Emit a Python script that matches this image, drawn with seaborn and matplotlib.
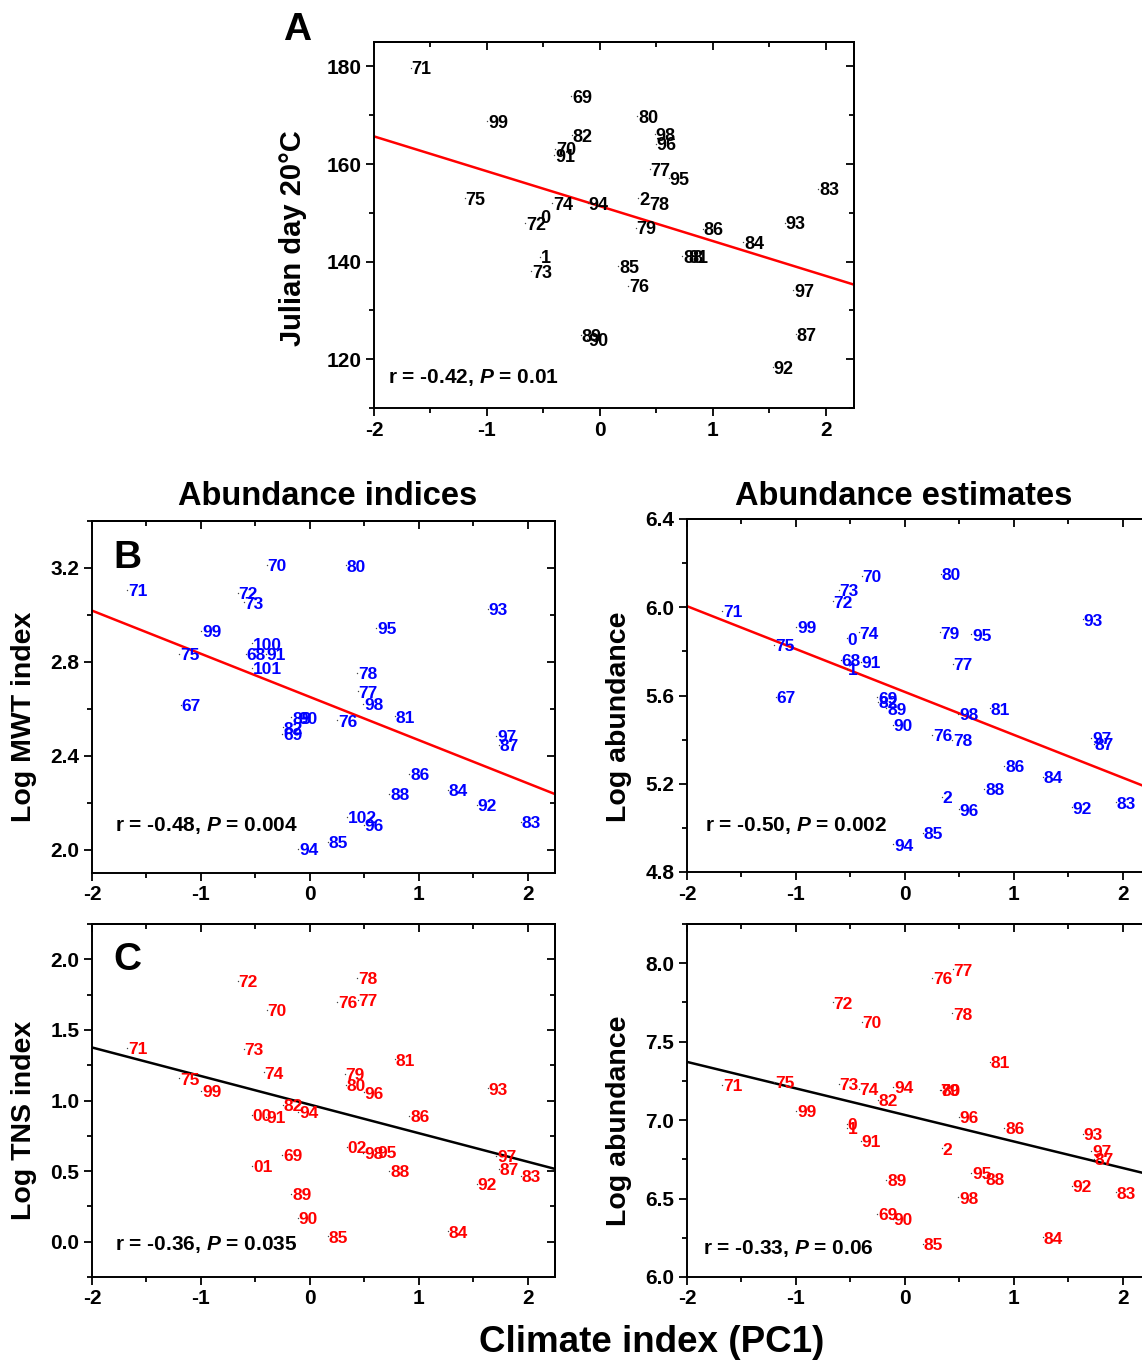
"""Climate index (PC1) vs timing and abundance: five labelled scatter panels."""

import matplotlib

matplotlib.use("Agg")
import matplotlib.pyplot as plt
import numpy as np
import pandas as pd
import seaborn as sns
from matplotlib.ticker import FormatStrFormatter, MultipleLocator

# years 1967..2002, written as 67..102
YEARS = list(range(67, 103))
PC1 = [
    -1.186, -0.587, -0.255, -0.395, -1.676, -0.661, -0.606, -0.423, -1.198, 0.253,
    0.440, 0.432, 0.318, 0.331, 0.780, -0.250, 1.935, 1.268, 0.162, 0.912,
    1.734, 0.730, -0.171, -0.110, -0.404, 1.532, 1.635, -0.105, 0.609, 0.496,
    1.713, 0.488, -0.998, -0.535, -0.530, 0.341,
]
nan = np.nan
JULIAN_DAY = [
    nan, nan, 173.9, 163.1, 179.7, 147.9, 138.0, 152.0, 153.0, 135.1,
    158.9, 152.0, 146.9, 169.8, 141.1, 165.9, 154.9, 144.0, 139.0, 146.7,
    125.1, 141.1, 124.9, 124.1, 161.8, 118.3, 148.0, 152.0, 157.1, 164.1,
    134.1, 166.1, 168.8, 149.2, 141.0, 153.0,
]
MWT_INDEX = [
    2.615, 2.834, 2.493, 3.214, 3.105, 3.094, 3.053, nan, 2.833, 2.550,
    2.674, 2.752, nan, 3.211, 2.567, 2.521, 2.119, 2.254, 2.034, 2.321,
    2.445, 2.236, 2.563, 2.561, 2.834, 2.191, 3.025, 2.003, 2.946, 2.105,
    2.483, 2.620, 2.932, 2.879, 2.773, 2.140,
]
MWT_ABUND = [
    5.594, 5.761, 5.592, 6.142, 5.984, 6.027, 6.079, 5.886, 5.829, 5.421,
    5.742, 5.398, 5.886, 6.151, 5.542, 5.570, 5.116, 5.232, 4.978, 5.280,
    5.380, 5.176, 5.542, 5.466, 5.754, 5.093, 5.945, 4.925, 5.877, 5.084,
    5.409, 5.516, 5.912, 5.859, 5.720, 5.141,
]
TNS_INDEX = [
    nan, nan, 0.615, 1.644, 1.373, 1.845, 1.364, 1.199, 1.157, 1.698,
    1.710, 1.871, 1.187, 1.110, 1.291, 0.968, 0.466, 0.073, 0.037, 0.890,
    0.514, 0.502, 0.339, 0.167, 0.886, 0.410, 1.086, 0.921, 0.638, 1.058,
    0.608, 0.627, 1.069, 0.898, 0.537, 0.673,
]
TNS_ABUND = [
    nan, nan, 6.401, 7.628, 7.225, 7.750, 7.229, 7.200, 7.246, 7.908,
    7.960, 7.680, 7.195, 7.195, 7.370, 7.127, 6.539, 6.253, 6.210, 6.949,
    6.752, 6.628, 6.619, 6.369, 6.868, 6.581, 6.910, 7.210, 6.662, 7.021,
    6.805, 6.508, 7.060, 6.975, 6.950, 6.820,
]

# point labels as printed in each panel
LABELS_SHORT = [str(y % 100) for y in YEARS]          # 0, 1, 2
LABELS_LONG = [str(y) for y in YEARS]                 # 100, 101, 102
LABELS_PAD = [f"{y % 100:02d}" if y >= 100 else str(y) for y in YEARS]  # 00, 01, 02

W, H = 1142, 1361


def px_box(left, top, right, bottom):
    return [left / W, 1 - bottom / H, (right - left) / W, (bottom - top) / H]


PANELS = [
    dict(vals=JULIAN_DAY, labels=LABELS_SHORT, box=(374, 42, 854, 408),
         ylim=(110, 185), major=20, minor=10, fmt="%d", color="black",
         line="red", stat="r = -0.42, $P$ = 0.01", stat_xy=(0.029, 0.082), fs=13),
    dict(vals=MWT_INDEX, labels=LABELS_LONG, box=(92, 521, 555, 873),
         ylim=(1.9, 3.4), major=0.4, minor=0.2, fmt="%.1f", color="#0000ff",
         line="red", stat="r = -0.48, $P$ = 0.004", stat_xy=(0.05, 0.136), fs=12.5),
    dict(vals=MWT_ABUND, labels=LABELS_SHORT, box=(687, 519, 1150, 872),
         ylim=(4.8, 6.4), major=0.4, minor=0.2, fmt="%.1f", color="#0000ff",
         line="red", stat="r = -0.50, $P$ = 0.002", stat_xy=(0.039, 0.133), fs=12.5),
    dict(vals=TNS_INDEX, labels=LABELS_PAD, box=(92, 924, 555, 1277),
         ylim=(-0.25, 2.25), major=0.5, minor=0.25, fmt="%.1f", color="#ff0000",
         line="black", stat="r = -0.36, $P$ = 0.035", stat_xy=(0.05, 0.093), fs=12.5),
    dict(vals=TNS_ABUND, labels=LABELS_SHORT, box=(687, 924, 1150, 1277),
         ylim=(6.0, 8.25), major=0.5, minor=0.25, fmt="%.1f", color="#ff0000",
         line="black", stat="r = -0.33, $P$ = 0.06", stat_xy=(0.034, 0.082), fs=12.5),
]

sns.set_theme(style="ticks")
plt.rcParams["font.family"] = ["Liberation Sans", "DejaVu Sans"]
plt.rcParams["font.weight"] = "bold"
plt.rcParams["axes.labelweight"] = "bold"
plt.rcParams["mathtext.fontset"] = "custom"
plt.rcParams["mathtext.it"] = "Liberation Sans:italic:bold"
plt.rcParams["mathtext.rm"] = "Liberation Sans:bold"
plt.rcParams["axes.linewidth"] = 1.4
for key in ["text.color", "axes.labelcolor", "axes.edgecolor", "xtick.color", "ytick.color"]:
    plt.rcParams[key] = "black"

fig = plt.figure(figsize=(W / 100, H / 100), dpi=100)

for p in PANELS:
    ax = fig.add_axes(px_box(*p["box"]))
    df = pd.DataFrame({"pc1": PC1, "val": p["vals"], "label": p["labels"]}).dropna()

    ax.set_xlim(-2, 2.25)
    ax.set_ylim(*p["ylim"])
    sns.regplot(data=df, x="pc1", y="val", ax=ax, scatter=False, ci=None,
                truncate=False, color=p["line"], line_kws={"lw": 1.8})
    sns.scatterplot(data=df, x="pc1", y="val", ax=ax, s=1, color="#444444",
                    linewidth=0, zorder=3)
    for lab, x, y in zip(df["label"], df["pc1"], df["val"]):
        ax.annotate(lab, (x, y), xytext=(0.6, -0.36 * p["fs"]), textcoords="offset points",
                    ha="left", va="baseline", color=p["color"], fontsize=p["fs"],
                    fontweight="bold", zorder=4)
    ax.set_xlim(-2, 2.25)
    ax.set_ylim(*p["ylim"])
    ax.set_xlabel("")
    ax.set_ylabel("")

    ax.xaxis.set_major_locator(MultipleLocator(1))
    ax.xaxis.set_minor_locator(MultipleLocator(0.5))
    ax.yaxis.set_major_locator(MultipleLocator(p["major"]))
    ax.yaxis.set_minor_locator(MultipleLocator(p["minor"]))
    ax.yaxis.set_major_formatter(FormatStrFormatter(p["fmt"]))
    ax.xaxis.set_major_formatter(FormatStrFormatter("%d"))
    ax.tick_params(which="both", direction="out", width=1.3, labelsize=15, pad=3,
                   colors="black")
    ax.tick_params(which="major", length=6)
    ax.tick_params(which="minor", length=3.5)
    for lab in ax.get_xticklabels() + ax.get_yticklabels():
        lab.set_fontweight("bold")

    # top and right ticks point inward
    top = ax.secondary_xaxis("top")
    top.xaxis.set_major_locator(MultipleLocator(1))
    top.xaxis.set_minor_locator(MultipleLocator(0.5))
    top.tick_params(which="both", direction="in", width=1.3, labeltop=False)
    top.tick_params(which="major", length=6)
    top.tick_params(which="minor", length=3.5)
    right = ax.secondary_yaxis("right")
    right.yaxis.set_major_locator(MultipleLocator(p["major"]))
    right.yaxis.set_minor_locator(MultipleLocator(p["minor"]))
    right.tick_params(which="both", direction="in", width=1.3, labelright=False)
    right.tick_params(which="major", length=6)
    right.tick_params(which="minor", length=3.5)

    ax.text(*p["stat_xy"], p["stat"], transform=ax.transAxes, ha="left",
            va="center", fontsize=15, fontweight="bold", color="black")

# axis titles, panel letters, column headings
fig.text(293.5 / W, 1 - 238 / H, "Julian day 20°C", rotation=90, ha="center",
         va="center", fontsize=21, fontweight="bold")
fig.text(24 / W, 1 - 717 / H, "Log MWT index", rotation=90, ha="center",
         va="center", fontsize=20.5, fontweight="bold")
fig.text(619 / W, 1 - 717 / H, "Log abundance", rotation=90, ha="center",
         va="center", fontsize=20.5, fontweight="bold")
fig.text(24 / W, 1 - 1120 / H, "Log TNS index", rotation=90, ha="center",
         va="center", fontsize=20.5, fontweight="bold")
fig.text(619 / W, 1 - 1121 / H, "Log abundance", rotation=90, ha="center",
         va="center", fontsize=20.5, fontweight="bold")

fig.text(328 / W, 1 - 505 / H, "Abundance indices", ha="center", va="baseline",
         fontsize=23.5, fontweight="bold")
fig.text(903.5 / W, 1 - 505 / H, "Abundance estimates", ha="center", va="baseline",
         fontsize=23.5, fontweight="bold")
fig.text(652 / W, 1 - 1352 / H, "Climate index (PC1)", ha="center", va="baseline",
         fontsize=26.5, fontweight="bold")

fig.text(283 / W, 1 - 40 / H, "A", ha="left", va="baseline", fontsize=28, fontweight="bold")
fig.text(113 / W, 1 - 568 / H, "B", ha="left", va="baseline", fontsize=28, fontweight="bold")
fig.text(113 / W, 1 - 970 / H, "C", ha="left", va="baseline", fontsize=28, fontweight="bold")

fig.savefig("out.png", dpi=100)
plt.close(fig)
